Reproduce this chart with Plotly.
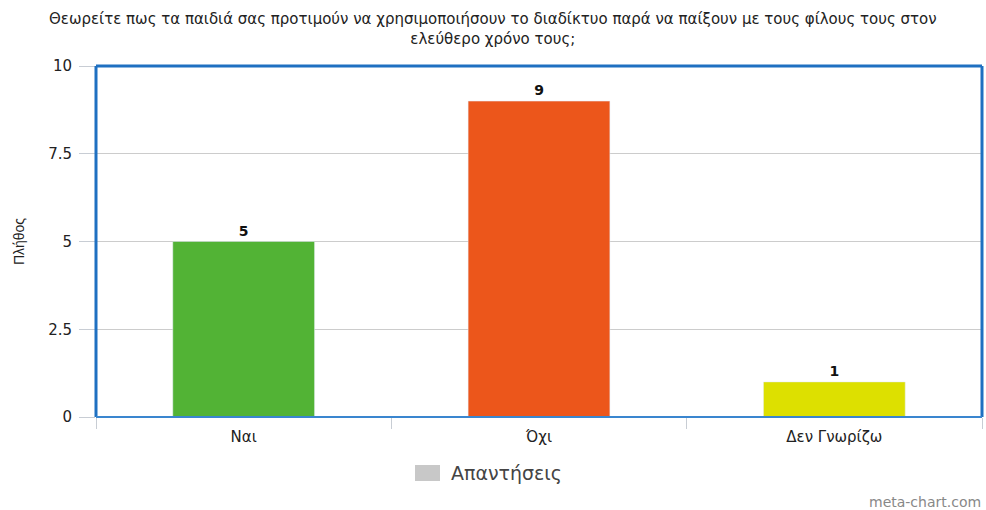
import plotly.graph_objects as go

categories = ["Ναι", "Όχι", "Δεν Γνωρίζω"]
values = [5, 9, 1]
bar_colors = ["#52b335", "#ec561b", "#dde000"]
series_name = "Απαντήσεις"
legend_color = "#c8c8c8"
title_text = "Θεωρείτε πως τα παιδιά σας προτιμούν να χρησιμοποιήσουν το διαδίκτυο παρά να παίξουν με τους φίλους τους στον<br>ελεύθερο χρόνο τους;"
y_title = "Πλήθος"
y_ticks = [0, 2.5, 5, 7.5, 10]
y_ticktext = ["0", "2.5", "5", "7.5", "10"]

W, H = 986, 510
L, R, T, B = 96, 4, 66, 93

fig = go.Figure()
fig.add_trace(go.Bar(
    x=categories, y=values, marker_color=bar_colors, width=0.48,
    text=[str(v) for v in values], textposition="outside",
    textfont=dict(family="DejaVu Sans", size=14, color="#111"),
    texttemplate="<b>%{text}</b>", cliponaxis=False, showlegend=False,
    name=series_name,
))

fig.update_layout(
    width=W, height=H,
    margin=dict(l=L, r=R, t=T, b=B, autoexpand=False),
    plot_bgcolor="white", paper_bgcolor="white",
    font=dict(family="DejaVu Sans", size=15, color="#222"),
    bargap=0.52,
    showlegend=False,
)
fig.update_xaxes(
    showgrid=False, ticks="outside", tickson="boundaries", ticklen=11, tickcolor="#c8cdd4",
    ticklabelstandoff=9,
    showline=False, automargin=False, tickfont=dict(family="DejaVu Sans", size=15, color="#222"),
)
fig.update_yaxes(
    range=[0, 10], tickvals=y_ticks, ticktext=y_ticktext,
    showgrid=True, gridcolor="#cccccc", gridwidth=1,
    ticks="outside", ticklen=16, tickcolor="#c8cdd4", ticklabelstandoff=4,
    zeroline=False, showline=False, automargin=False,
    tickfont=dict(family="DejaVu Sans", size=15, color="#222"),
    title=dict(text=y_title, font=dict(family="Liberation Sans", size=14, color="#222"), standoff=20),
)
border = "#1f70c1"
fig.add_shape(type="line", xref="paper", yref="paper", x0=0, x1=1, y0=1, y1=1, line=dict(color=border, width=3))
fig.add_shape(type="line", xref="paper", yref="paper", x0=0, x1=0, y0=0, y1=1, line=dict(color=border, width=3))
fig.add_shape(type="line", xref="paper", yref="paper", x0=1, x1=1, y0=0, y1=1, line=dict(color=border, width=3))
fig.add_shape(type="line", xref="paper", yref="paper", x0=0, x1=1, y0=0, y1=0, line=dict(color="#3a86cf", width=2))

pw = W - L - R
ph = H - T - B
def px_x(x):
    return (x - L) / pw
def px_y(y):
    return (H - B - y) / ph

# title
fig.add_annotation(text=title_text, xref="paper", yref="paper", x=px_x(493), y=px_y(29),
                   xanchor="center", yanchor="middle", showarrow=False, align="center",
                   font=dict(family="DejaVu Sans", size=15, color="#222"))
# legend swatch + label
fig.add_shape(type="rect", xref="paper", yref="paper",
              x0=px_x(415), x1=px_x(440), y0=px_y(481), y1=px_y(465),
              fillcolor=legend_color, line=dict(width=0))
fig.add_annotation(text=series_name, xref="paper", yref="paper", x=px_x(449), y=px_y(473),
                   xanchor="left", yanchor="middle", showarrow=False,
                   font=dict(family="DejaVu Sans", size=19, color="#444"))
fig.add_annotation(text="meta-chart.com", xref="paper", yref="paper", x=px_x(983), y=px_y(502),
                   xanchor="right", yanchor="middle", showarrow=False,
                   font=dict(family="DejaVu Sans", size=14, color="#888"))

fig.write_html("out.html", config={"displayModeBar": False},
               post_script="document.body.style.margin='0';document.body.style.overflow='hidden';")
